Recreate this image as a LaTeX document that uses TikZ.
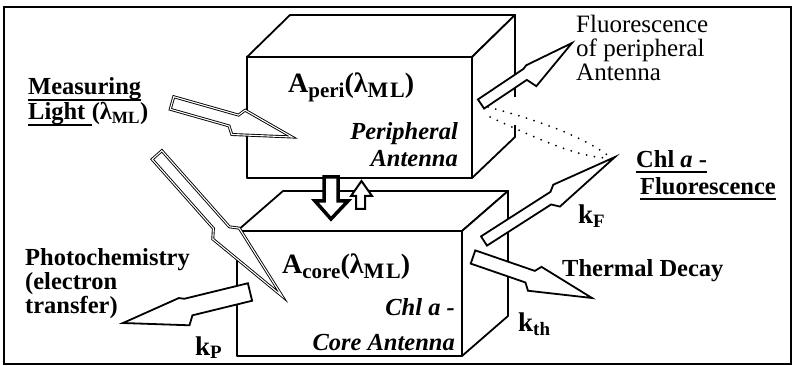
\documentclass[tikz,border=0pt]{standalone}
\usepackage{fontspec}
\setmainfont{Liberation Serif}
\usetikzlibrary{calc}

\tikzset{
  boxline/.style={draw=black, line width=1.8pt, fill=white, line join=round},
  boltline/.style={draw=black, line width=1.8pt, fill=white},
  boltdouble/.style={draw=black, line width=0.9pt, double=white, double distance=1.1pt, fill=white},
  dotline/.style={line width=2pt, line cap=round, dash pattern=on 0pt off 8pt},
  underbar/.style={line width=1.3pt},
  lbl/.style={inner sep=0pt, font=\fontsize{24.5}{24.5}\selectfont\bfseries},
  lblit/.style={inner sep=0pt, font=\fontsize{24.5}{24.5}\selectfont\bfseries\itshape},
  plain/.style={inner sep=0pt, font=\fontsize{25}{25}\selectfont},
  biglbl/.style={inner sep=0pt, font=\fontsize{28}{28}\selectfont\bfseries},
  klbl/.style={inner sep=0pt, font=\fontsize{27}{27}\selectfont\bfseries}
}

% subscripts of the absorption labels
\newcommand{\bigsub}[1]{\raisebox{-5pt}{\fontsize{21}{21}\selectfont #1}}
\newcommand{\widesub}[1]{\raisebox{-5pt}{\fontsize{22}{22}\selectfont\addfontfeatures{LetterSpace=8}#1}}

% lightning arrow: [style]{tail}{tip}{shaft half width}{head left}{head right}{step left}{step right}
\newcommand{\boltarrow}[8][boltline]{%
  \pgfmathsetmacro{\stepleft}{#7+0.04}%
  \pgfmathsetmacro{\stepright}{#8+0.04}%
  \draw[#1] ($(#2)!#4!90:(#3)$)
    -- ($(#2)!#7!(#3)!#4!90:(#3)$)
    -- ($(#2)!\stepleft!(#3)!#5!90:(#3)$)
    -- (#3)
    -- ($(#2)!\stepright!(#3)!#6!-90:(#3)$)
    -- ($(#2)!#8!(#3)!#4!-90:(#3)$)
    -- ($(#2)!#4!-90:(#3)$) -- cycle;}

\begin{document}
\begin{tikzpicture}[x=1pt, y=-1pt]

        \useasboundingbox (0,0) rectangle (795,366);

        % Draw frame
        \draw[line width=1.3pt] (4,7) rectangle (791,364);

        % Draw core antenna box
        \filldraw[boxline] (237,231) -- ++(46,-40) -- ++(225,0) -- (462,231) -- cycle;
        \filldraw[boxline] (462,231) -- (508,191) -- (508,316) -- (462,356) -- cycle;
        \filldraw[boxline] (237,231) rectangle (462,356);

        % Draw peripheral antenna box
        \filldraw[boxline] (247,57) -- ++(43,-42) -- ++(225,0) -- (472,57) -- cycle;
        \filldraw[boxline] (472,57) -- (515,15) -- (515,137) -- (472,178) -- cycle;
        \filldraw[boxline] (247,57) rectangle (472,178);
        \draw[white, line width=3pt] (515,97) -- (515,125);

        % Draw energy transfer between the boxes
        \filldraw[draw=black, fill=white, line width=3.5pt, line join=miter]
          (324,177) -- (324,201) -- (315,201) -- (331,219) -- (348,201) -- (338,201) -- (338,177) -- cycle;
        \filldraw[draw=black, fill=white, line width=2pt]
          (356,209) -- (356,196) -- (351,196) -- (361.5,181) -- (372,196) -- (365,196) -- (365,209) -- cycle;

        % Draw dotted fluorescence paths
        \draw[dotline] (488,107) .. controls (545,122) and (585,138) .. (610,157);
        \draw[dotline] (490,117) .. controls (530,135) and (570,155) .. (605,158);

        % Draw lightning arrows
        \coordinate (mltail) at (172,103);
        \coordinate (mltip) at (292,137);
        \coordinate (lgtail) at (157,155);
        \coordinate (lgtip) at (282,296);
        \coordinate (pctail) at (250,292);
        \coordinate (pctip) at (123,323);
        \coordinate (kftail) at (484,241);
        \coordinate (kftip) at (615,157);
        \coordinate (thtail) at (473,257);
        \coordinate (thtip) at (592,298);
        \coordinate (fptail) at (481,104);
        \coordinate (fptip) at (572,43);

        \boltarrow[boltdouble]{mltail}{mltip}{6.5pt}{13pt}{14pt}{0.54}{0.49}
        \boltarrow[boltdouble]{lgtail}{lgtip}{6.5pt}{13pt}{14pt}{0.54}{0.49}
        \boltarrow{pctail}{pctip}{9pt}{18pt}{11pt}{0.47}{0.50}
        \boltarrow{kftail}{kftip}{5.5pt}{10pt}{12pt}{0.53}{0.49}
        \boltarrow{thtail}{thtip}{7pt}{13pt}{14pt}{0.50}{0.46}
        \boltarrow{fptail}{fptip}{5.5pt}{7pt}{16pt}{0.50}{0.47}

        % Draw labels
        \node[biglbl, anchor=base west] (aperi) at (288,93) {A\bigsub{peri}(λ\widesub{ML})};
        \node[lblit, anchor=base east] (peri1) at (458,140) {Peripheral};
        \node[lblit, anchor=base east] (peri2) at (458,167) {Antenna};
        \node[biglbl, anchor=base west] (acore) at (282,273) {A\bigsub{core}(λ\widesub{ML})};
        \node[lblit, anchor=base east] (core1) at (455,315) {Chl a -};
        \node[lblit, anchor=base east] (core2) at (455,350) {Core Antenna};

        \node[lbl, anchor=base west] (meas) at (28,95) {Measuring};
        \node[lbl, anchor=base west] (light) at (28,120) {Light};
        \node[lbl, anchor=base west] (lightlam) at ($(light.base east)+(6,0)$) {(λ\textsubscript{ML})};
        \draw[underbar] ($(meas.base west)+(0,5)$) -- ($(meas.base east)+(0,5)$);
        \draw[underbar] ($(light.base west)+(0,5)$) -- ($(light.base east)+(6,5)$);

        \node[plain, anchor=base west] (fluo1) at (576,33) {Fluorescence};
        \node[plain, anchor=base west] (fluo2) at (576,57) {of peripheral};
        \node[plain, anchor=base west] (fluo3) at (576,81) {Antenna};

        \node[lbl, anchor=base west] (chl) at (636,168) {Chl \textit{a} -};
        \node[lbl, anchor=base west] (chlfluo) at (640,195) {Fluorescence};
        \draw[underbar] ($(chl.base west)+(0,4)$) -- ($(chl.base east)+(0,4)$);
        \draw[underbar] ($(chlfluo.base west)+(0,4)$) -- ($(chlfluo.base east)+(0,4)$);

        \node[klbl, anchor=base west] (kf) at (578,224) {k\textsubscript{F}};
        \node[lbl, anchor=base west] (therm) at (562,276) {Thermal Decay};
        \node[klbl, anchor=base west] (kth) at (518,331) {k\textsubscript{th}};

        \node[lbl, anchor=base west] (photo1) at (25,265) {Photochemistry};
        \node[lbl, anchor=base west] (photo2) at (25,289) {(electron};
        \node[lbl, anchor=base west] (photo3) at (25,313) {transfer)};
        \node[klbl, anchor=base west] (kp) at (195,355) {k\textsubscript{P}};

    \end{tikzpicture}
\end{document}
